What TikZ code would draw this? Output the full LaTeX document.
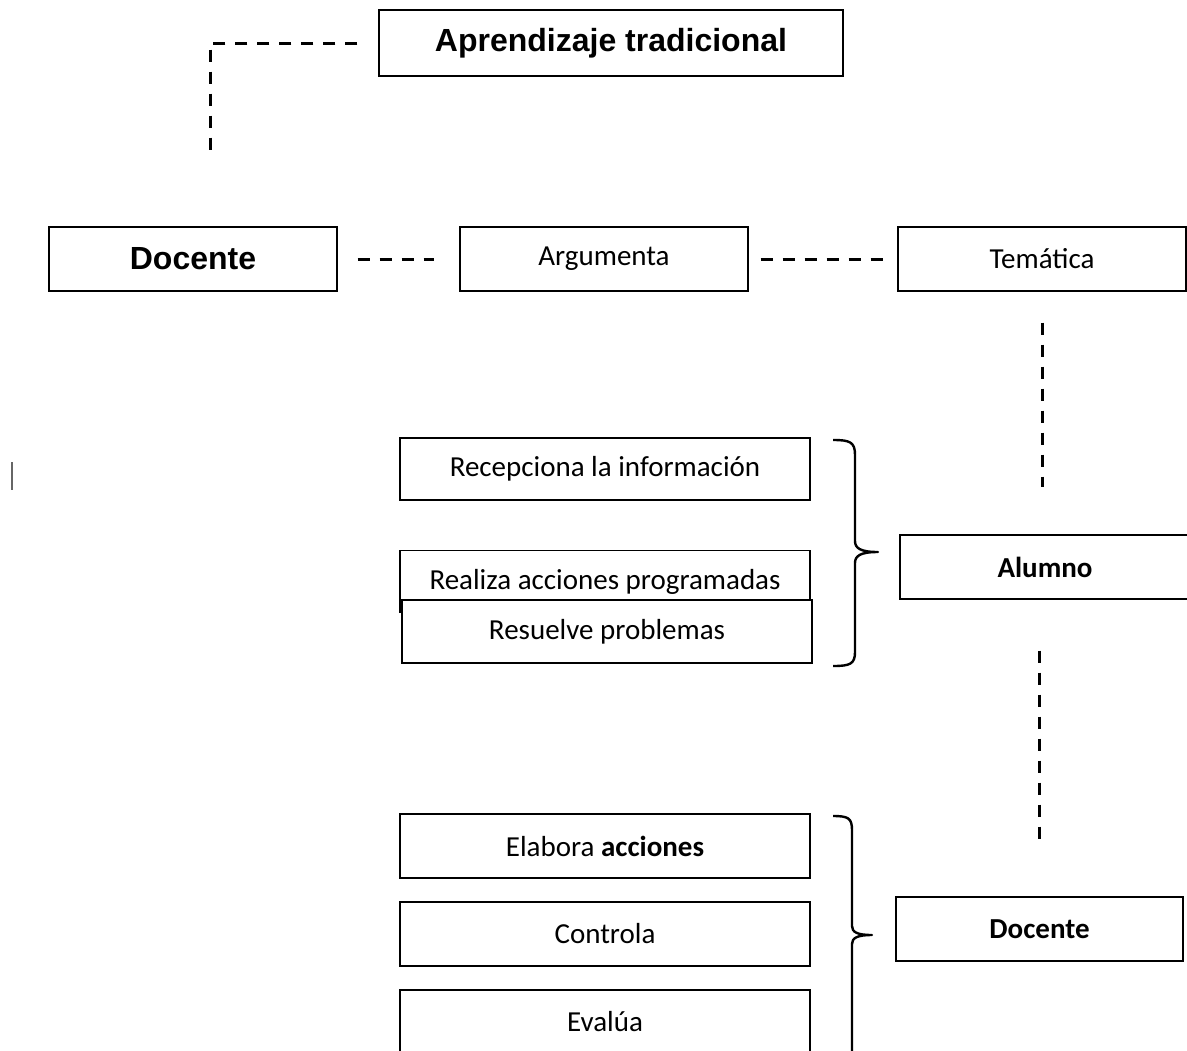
\documentclass[tikz,border=0pt]{standalone}
\usepackage{fontspec}
\setmainfont{Carlito}
\newfontfamily\arialfont{Liberation Sans}

\begin{document}
\begin{tikzpicture}[x=0.5pt, y=-0.5pt,
    caja/.style={draw, line width=0.7pt, fill=white, inner sep=0pt,
        font=\fontsize{14.5}{17}\selectfont},
    titulo/.style={caja, font=\arialfont\bfseries\fontsize{16}{19}\selectfont},
    enlace/.style={line width=1.5pt, dash pattern=on 6pt off 5pt},
    llave/.style={line width=1.2pt, line join=round}]
    \useasboundingbox (0,0) rectangle (1187,1050);
    \clip (0,0) rectangle (1187,1050);

    % fila superior
    \node[titulo, minimum width=232pt, minimum height=33pt] (aprend) at (611, 43) {Aprendizaje tradicional};
    \node[titulo, minimum width=144pt, minimum height=32pt] (docA) at (193, 259) {Docente};
    \node[caja, minimum width=144pt, minimum height=32pt] (arg) at (604, 259) {Argumenta};
    \node[caja, minimum width=144pt, minimum height=32pt] (tem) at (1042, 259) {Temática};
    \coordinate (codo) at (210, 158);

    % acciones del alumno
    \node[caja, minimum width=205pt, minimum height=31pt] (recep) at (605, 469) {Recepciona la información};
    \node[caja, minimum width=205pt, minimum height=31pt] (realiza) at (605, 581.5) {Realiza acciones programadas};
    \node[caja, minimum width=205pt, minimum height=31.5pt] (resuelve) at (607, 631.5) {Resuelve problemas};
    \node[caja, font=\bfseries\fontsize{14.5}{17}\selectfont, minimum width=145pt, minimum height=32pt] (alumno) at (1045, 567) {Alumno};

    % acciones del docente
    \node[caja, minimum width=205pt, minimum height=32pt] (elabora) at (605, 846) {Elabora \textbf{acciones}};
    \node[caja, minimum width=205pt, minimum height=32pt] (controla) at (605, 934) {Controla};
    \node[caja, minimum width=205pt, minimum height=32pt] (evalua) at (605, 1022) {Evalúa};
    \node[caja, font=\bfseries\fontsize{14.5}{17}\selectfont, minimum width=143.5pt, minimum height=32pt] (docB) at (1039.5, 929) {Docente};

    % enlaces
    \draw[enlace, shorten <=10.5pt] (aprend.west) -| (codo);
    \draw[enlace, shorten <=10pt, shorten >=12.5pt] (docA.east) -- (arg.west);
    \draw[enlace, shorten <=6pt, shorten >=6.5pt] (arg.east) -- (tem.west);
    \draw[enlace, shorten <=15.5pt, shorten >=23.5pt] (tem.south) -- (alumno.north -| tem.south);
    \draw[enlace, shorten <=25.5pt, shorten >=28.5pt] (alumno.south -| docB.north) -- (docB.north);

    % llaves
    \draw[llave] (833, 440) .. controls (850, 440) and (855, 442) .. (855, 455) -- (855, 541)
        .. controls (855, 548) and (860, 552) .. (878, 552)
        .. controls (860, 552) and (855, 556) .. (855, 563) -- (855, 652)
        .. controls (855, 664) and (850, 666) .. (833, 666);
    \draw[llave] (833, 816) .. controls (848, 816) and (852, 818) .. (852, 830) -- (852, 926)
        .. controls (852, 932) and (857, 935) .. (872, 935)
        .. controls (857, 935) and (852, 938) .. (852, 944) -- (852, 1060);

    \draw[gray!80!black, line width=1pt] (11.5, 462) -- (11.5, 490);
\end{tikzpicture}
\end{document}
